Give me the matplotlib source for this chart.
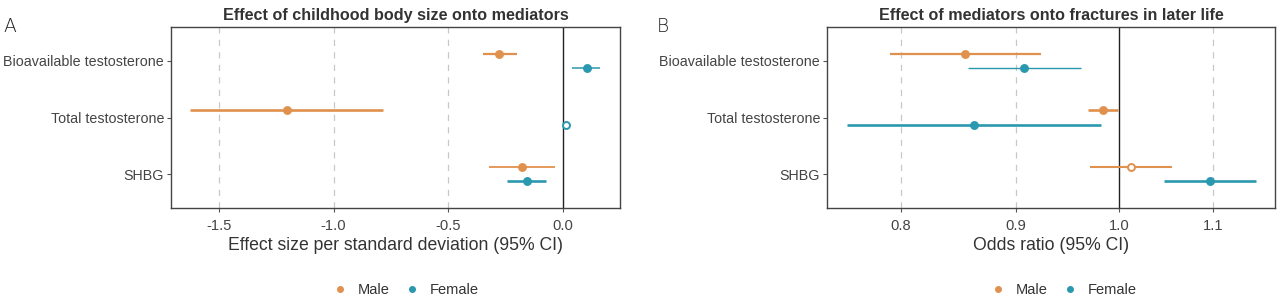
import numpy as np
import matplotlib
matplotlib.use("Agg")
import matplotlib.pyplot as plt
from matplotlib.lines import Line2D

plt.rcParams['font.family'] = ['Liberation Sans', 'DejaVu Sans']

# mediators, top to bottom
mediators = ['Bioavailable testosterone', 'Total testosterone', 'SHBG']

# panel A: effect of childhood body size onto mediators (SD units)
a_male_est = [-0.279, -1.205, -0.179]
a_male_lo = [-0.350, -1.625, -0.321]
a_male_hi = [-0.198, -0.786, -0.032]
a_female_est = [0.104, 0.014, -0.157]
a_female_lo = [0.039, 0.004, -0.245]
a_female_hi = [0.164, 0.024, -0.071]
a_male_open = [False, False, False]
a_female_open = [False, True, False]

# panel B: effect of mediators onto fractures (odds ratio)
b_male_est = [0.854, 0.983, 1.012]
b_male_lo = [0.791, 0.968, 0.970]
b_male_hi = [0.923, 0.999, 1.055]
b_female_est = [0.907, 0.862, 1.097]
b_female_lo = [0.857, 0.757, 1.047]
b_female_hi = [0.962, 0.981, 1.149]
b_male_open = [False, False, True]
b_female_open = [False, False, False]

c_male = '#E0914D'
c_female = '#2A98AE'

# line widths (precision-like weighting)
a_male_lw = [1.6, 1.9, 1.3]
a_female_lw = [1.1, 1.0, 1.9]
b_male_lw = [1.6, 1.9, 1.5]
b_female_lw = [1.0, 1.9, 1.9]

fig = plt.figure(figsize=(12.8, 2.99), dpi=100)
axA = fig.add_axes([171/1280, 1 - 208/299, 449/1280, 181/299])
axB = fig.add_axes([827/1280, 1 - 208/299, 448/1280, 181/299])

ypos = np.array([1, 2, 3])
off = 0.13


def draw(ax, est, lo, hi, opn, lws, color, dy):
    for i in range(len(est)):
        y = ypos[i] + dy
        ax.plot([lo[i], hi[i]], [y, y], color=color, lw=lws[i],
                solid_capstyle='butt', zorder=3)
        ax.plot(est[i], y, 'o', ms=5, mec=color, mew=1.4,
                mfc='white' if opn[i] else color, zorder=4)


def style(ax, xlabel, title, ref, ticks, ticklabels):
    ax.axvline(ref, color='#222222', lw=1.0, zorder=2)
    for t in ticks:
        if t != ref:
            ax.axvline(t, color='#C8C8C8', lw=0.9, ls=(0, (5, 5)), zorder=1)
    ax.set_xticks(ticks)
    ax.set_xticklabels(ticklabels)
    ax.minorticks_off()
    ax.set_yticks(ypos)
    ax.set_yticklabels(mediators)
    ax.set_ylim(3.6, 0.4)
    ax.tick_params(axis='both', length=3, color='#555555', labelcolor='#444444',
                   labelsize=10.6, pad=2)
    ax.tick_params(axis='x', pad=5)
    ax.tick_params(axis='y', labelsize=10.3)
    for s in ax.spines.values():
        s.set_color('#444444')
        s.set_linewidth(1.0)
    ax.set_xlabel(xlabel, fontsize=12.7, color='#333333', labelpad=3)
    ax.set_title(title, fontsize=11.6, fontweight='bold', color='#333333', pad=5)


draw(axA, a_male_est, a_male_lo, a_male_hi, a_male_open, a_male_lw, c_male, -off)
draw(axA, a_female_est, a_female_lo, a_female_hi, a_female_open, a_female_lw, c_female, off)
axA.set_xlim(-1.71, 0.25)
style(axA, 'Effect size per standard deviation (95% CI)',
      'Effect of childhood body size onto mediators', 0.0,
      [-1.5, -1.0, -0.5, 0.0], ['-1.5', '-1.0', '-0.5', '0.0'])

draw(axB, b_male_est, b_male_lo, b_male_hi, b_male_open, b_male_lw, c_male, -off)
draw(axB, b_female_est, b_female_lo, b_female_hi, b_female_open, b_female_lw, c_female, off)
axB.set_xscale('log')
axB.set_xlim(0.742, 1.172)
style(axB, 'Odds ratio (95% CI)',
      'Effect of mediators onto fractures in later life', 1.0,
      [0.8, 0.9, 1.0, 1.1], ['0.8', '0.9', '1.0', '1.1'])

fig.text(3/1280, 1 - 26/299, 'A', fontsize=13.5, color='#222222', va='center',
         family='DejaVu Sans', fontweight='light')
fig.text(657/1280, 1 - 26/299, 'B', fontsize=13.5, color='#222222', va='center',
         family='DejaVu Sans', fontweight='light')

handles = [Line2D([], [], ls='none', marker='o', ms=4, color=c_male),
           Line2D([], [], ls='none', marker='o', ms=4, color=c_female)]
for cx in [405/1280, 1063/1280]:
    fig.legend(handles, ['Male', 'Female'], loc='center', ncol=2,
               bbox_to_anchor=(cx, 1 - 290/299), frameon=False, fontsize=10.5,
               handlelength=1.2, handletextpad=0.6, columnspacing=1.0,
               labelcolor='#333333')

fig.savefig('out.png', dpi=100)
